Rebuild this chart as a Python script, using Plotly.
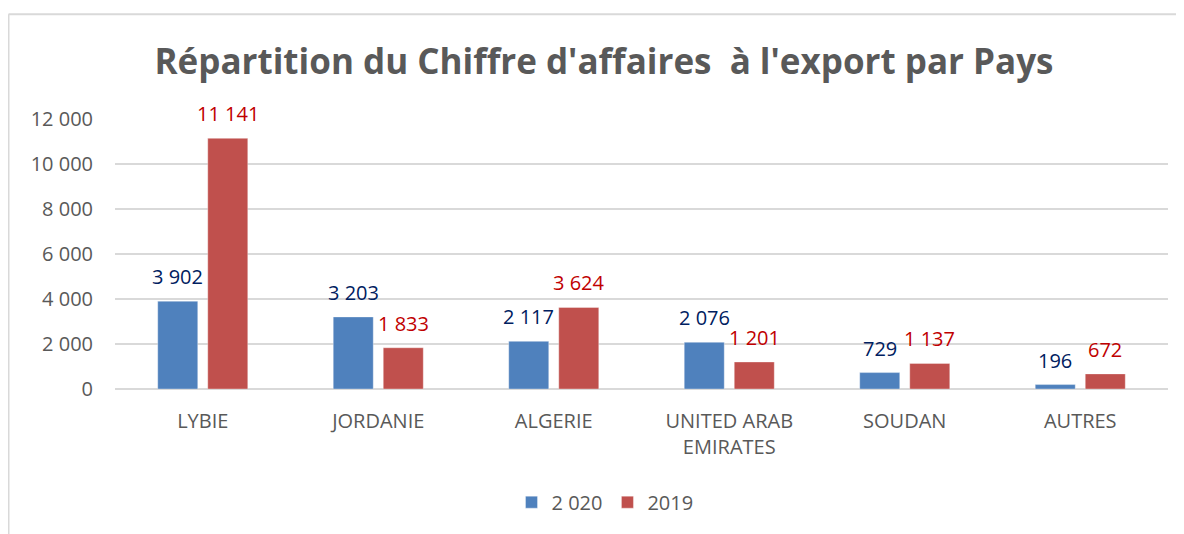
import plotly.graph_objects as go

categories = ["LYBIE", "JORDANIE", "ALGERIE", "UNITED ARAB<br>EMIRATES", "SOUDAN", "AUTRES"]
values_2020 = [3902, 3203, 2117, 2076, 729, 196]
values_2019 = [11141, 1833, 3624, 1201, 1137, 672]
series_names = ["2 020", "2019"]
y_ticks = [0, 2000, 4000, 6000, 8000, 10000, 12000]

BLUE = "#4F81BD"
RED = "#C0504D"
BLUE_TXT = "#002060"
RED_TXT = "#C00000"
GRAY = "#595959"
GRID = "#D9D9D9"
FONT = "Open Sans"

def fmt(v):
    return f"{v:,}".replace(",", " ")

fig = go.Figure()
fig.add_trace(go.Bar(x=categories, y=values_2020, name=series_names[0],
                     marker=dict(color=BLUE, line=dict(color="rgba(255,255,255,0.35)", width=1))))
fig.add_trace(go.Bar(x=categories, y=values_2019, name=series_names[1],
                     marker=dict(color=RED, line=dict(color="rgba(255,255,255,0.35)", width=1))))

annotations = []
for c, v in zip(categories, values_2020):
    annotations.append(dict(x=c, y=v, text=fmt(v), showarrow=False, xshift=-25, yshift=9,
                            yanchor="bottom", font=dict(family=FONT, size=20, color=BLUE_TXT)))
for c, v in zip(categories, values_2019):
    annotations.append(dict(x=c, y=v, text=fmt(v), showarrow=False, xshift=25, yshift=9,
                            yanchor="bottom", font=dict(family=FONT, size=20, color=RED_TXT)))

# page body has an 8px margin; lay out in reference pixels shifted by OFF
OFF = 8
W, H = 1184 - OFF, 534 - OFF
L, R, T, B = 115 - OFF, 16, 119 - OFF, 534 - 391
pw, ph = W - L - R, H - T - B
def px(xp):
    return (xp - OFF - L) / pw
def py(yp):
    return (H - B - (yp - OFF)) / ph

shapes = [
    dict(type="line", xref="paper", yref="paper", x0=px(8.5), x1=px(1190), y0=py(13.5), y1=py(13.5),
         line=dict(color=GRID, width=2)),
    dict(type="line", xref="paper", yref="paper", x0=px(8.5), x1=px(8.5), y0=py(13.5), y1=py(540),
         line=dict(color=GRID, width=2)),
]

fig.update_layout(
    width=W, height=H,
    margin=dict(l=L, r=R, t=T, b=B),
    paper_bgcolor="white", plot_bgcolor="white",
    separators=", ",
    font=dict(family=FONT, size=20, color=GRAY),
    title=dict(text="<b>Répartition du Chiffre d'affaires  à l'export par Pays</b>",
               xref="container", yref="container", x=(604 - OFF) / W, y=1 - (62 - OFF) / H,
               xanchor="center", yanchor="middle",
               font=dict(family=FONT, size=35, color=GRAY)),
    barmode="group", bargap=0.43, bargroupgap=0.2,
    showlegend=True,
    legend=dict(orientation="h", xanchor="center", yanchor="middle",
                x=px(605), y=py(505), font=dict(family=FONT, size=20, color=GRAY),
                itemwidth=30, traceorder="normal"),
    annotations=annotations,
    shapes=shapes,
)
fig.update_xaxes(showgrid=False, showline=False, ticks="", ticklabelstandoff=18,
                 tickfont=dict(family=FONT, size=20, color=GRAY))
fig.update_yaxes(range=[0, 12000], tickvals=y_ticks, tickformat=",d", showgrid=True, gridcolor=GRID,
                 gridwidth=1.5, zeroline=True, zerolinecolor=GRID, zerolinewidth=1.5, showline=False,
                 ticks="", ticklabelstandoff=21,
                 tickfont=dict(family=FONT, size=20, color=GRAY))

fig.write_html("out.html")
